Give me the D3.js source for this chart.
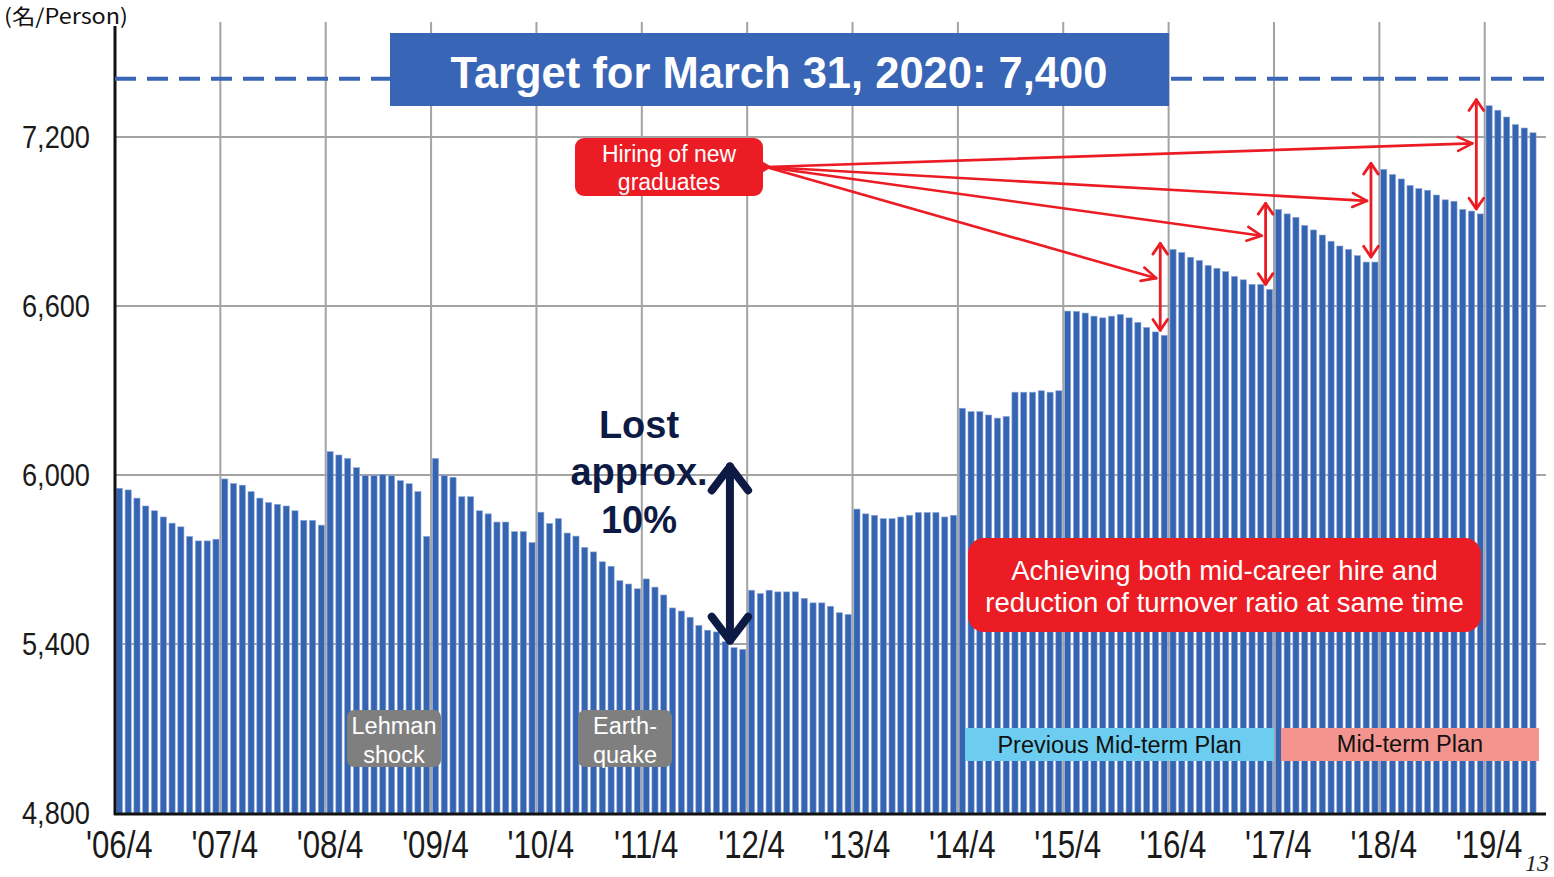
<!DOCTYPE html>
<html><head><meta charset="utf-8">
<script src="https://cdn.jsdelivr.net/npm/d3@7"></script>
<style>body{margin:0;background:#fff} svg{display:block}</style>
</head><body>
<svg id="c" width="1554" height="877"></svg>
<script>
// Monthly headcount, fiscal years (April .. March)
const fy2006=[5953,5947,5918,5890,5873,5851,5829,5816,5782,5766,5766,5772];
const fy2007=[5986,5970,5964,5941,5918,5902,5896,5890,5873,5839,5839,5822];
const fy2008=[6083,6071,6059,6026,5998,5998,6002,5998,5980,5969,5941,5782];
const fy2009=[6059,5998,5992,5923,5923,5873,5862,5833,5833,5799,5799,5760];
const fy2010=[5868,5828,5845,5794,5783,5743,5727,5692,5676,5625,5613,5596];
const fy2011=[5631,5602,5574,5528,5517,5495,5466,5449,5443,5408,5387,5381];
const fy2012=[5591,5579,5591,5585,5585,5585,5562,5546,5546,5534,5511,5505];
const fy2013=[5879,5862,5857,5845,5845,5851,5857,5867,5867,5867,5851,5857];
const fy2014=[6237,6225,6225,6213,6202,6208,6294,6294,6294,6299,6294,6299];
const fy2015=[6582,6581,6575,6564,6558,6564,6570,6558,6542,6524,6508,6496];
const fy2016=[6801,6790,6773,6762,6744,6734,6722,6705,6693,6677,6677,6659];
const fy2017=[6943,6927,6915,6886,6870,6852,6830,6813,6801,6779,6756,6756];
const fy2018=[7085,7067,7051,7028,7017,7011,6994,6977,6972,6943,6937,6927];
const fy2019=[7311,7295,7271,7244,7232,7215];
const yearLabels=["'06/4","'07/4","'08/4","'09/4","'10/4","'11/4","'12/4","'13/4","'14/4","'15/4","'16/4","'17/4","'18/4","'19/4"];
const yTicks=[4800,5400,6000,6600,7200];
const targetValue=7400;
const hireYears=[10,11,12,13]; // fiscal-year index where April new-graduate hiring is marked

const values=[].concat(fy2006,fy2007,fy2008,fy2009,fy2010,fy2011,fy2012,fy2013,fy2014,fy2015,fy2016,fy2017,fy2018,fy2019);
const N=values.length;

const svg=d3.select("#c");
const left=115, right=1546, bottom=813;
const step=8.764;
const x=d3.scaleBand().domain(d3.range(N)).range([left,left+step*(N+0.3)]).paddingInner(0.3).paddingOuter(0.15);
const y=d3.scaleLinear().domain([4800,7200]).range([bottom,137]);
const bw=x.bandwidth();
const gap=x.step()-bw;
const aprilX=i=>x(i*12)-gap/2;

const BLUE="#3564b2", RED="#ec1c24", GRID="#a3a3a3", NAVY="#0d1a44";
const SANS="'Liberation Sans', Arial, sans-serif";

// gridlines
const grid=svg.append("g");
grid.selectAll("line.h").data(yTicks.slice(1)).join("line")
  .attr("x1",left).attr("x2",right).attr("y1",d=>y(d)).attr("y2",d=>y(d))
  .attr("stroke",GRID).attr("stroke-width",2);
grid.selectAll("line.v").data(yearLabels.map((d,i)=>i).slice(1)).join("line")
  .attr("x1",d=>aprilX(d)).attr("x2",d=>aprilX(d)).attr("y1",22).attr("y2",bottom)
  .attr("stroke",GRID).attr("stroke-width",2);

// bars
svg.append("g").selectAll("rect").data(values).join("rect")
  .attr("x",(d,i)=>x(i)).attr("width",bw)
  .attr("y",d=>y(d)).attr("height",d=>y(4800)-y(d))
  .attr("fill",BLUE).attr("stroke","#8fa9d8").attr("stroke-width",0.6);

// condensed text helper: move x/y into a transform and squeeze horizontally
function condense(sel,sx){
  sel.each(function(){
    const t=d3.select(this);
    const tx=+t.attr("x")||0, ty=+t.attr("y")||0;
    t.attr("x",0).attr("y",0).attr("transform",`translate(${tx},${ty}) scale(${sx},1)`);
  });
}

// axes
const ya=svg.append("g").attr("transform",`translate(${left},0)`)
  .call(d3.axisLeft(y).tickValues(yTicks).tickSize(0).tickPadding(25).tickFormat(d3.format(",")));
ya.select(".domain").remove();
ya.selectAll("text").attr("font-family",SANS).attr("font-size",32).attr("fill","#1a1a1a").call(condense,0.85);

const xa=svg.append("g").attr("transform",`translate(0,${bottom})`)
  .call(d3.axisBottom(x).tickValues(d3.range(0,N,12)).tickSize(0).tickPadding(17).tickFormat(i=>yearLabels[i/12]));
xa.select(".domain").remove();
xa.selectAll("text").attr("font-family",SANS).attr("font-size",39).attr("fill","#1a1a1a").call(condense,0.8);

svg.append("line").attr("x1",left).attr("x2",left).attr("y1",26).attr("y2",bottom+2)
  .attr("stroke","#111").attr("stroke-width",3);
svg.append("line").attr("x1",left-1).attr("x2",right).attr("y1",bottom+1).attr("y2",bottom+1)
  .attr("stroke","#111").attr("stroke-width",3);

svg.append("text").attr("x",4).attr("y",24).text("(名/Person)")
  .attr("font-family","'Noto Sans CJK JP', sans-serif").attr("font-size",21).attr("fill","#111")
  .attr("textLength",124).attr("lengthAdjust","spacingAndGlyphs");

// target dashed line + box
svg.append("line").attr("x1",left).attr("x2",right).attr("y1",y(targetValue)-2).attr("y2",y(targetValue)-2)
  .attr("stroke","#3a66b7").attr("stroke-width",4).attr("stroke-dasharray","21 11");
svg.append("rect").attr("x",390).attr("y",33).attr("width",779).attr("height",73).attr("fill","#3865b5");
svg.append("text").attr("x",779).attr("y",88).attr("text-anchor","middle")
  .attr("font-family",SANS).attr("font-weight","bold").attr("font-size",43.5).attr("fill","#fff")
  .text("Target for March 31, 2020: 7,400");

// helpers
function chevron(g,tx,ty,ang,len,half,color,w){
  const a1=ang+Math.PI-half,a2=ang+Math.PI+half;
  g.append("path").attr("d",d3.line()([[tx+len*Math.cos(a1),ty+len*Math.sin(a1)],[tx,ty],[tx+len*Math.cos(a2),ty+len*Math.sin(a2)]]))
    .attr("fill","none").attr("stroke",color).attr("stroke-width",w).attr("stroke-linecap","round").attr("stroke-linejoin","round");
}
function arrow(g,x1,y1,x2,y2,color,w,len,half,both){
  g.append("line").attr("x1",x1).attr("y1",y1).attr("x2",x2).attr("y2",y2)
    .attr("stroke",color).attr("stroke-width",w).attr("stroke-linecap","round");
  const a=Math.atan2(y2-y1,x2-x1);
  chevron(g,x2,y2,a,len,half,color,w);
  if(both) chevron(g,x1,y1,a+Math.PI,len,half,color,w);
}
function box(g,x0,y0,w,h,r,fill,lines,fs,baselines,color){
  g.append("rect").attr("x",x0).attr("y",y0).attr("width",w).attr("height",h).attr("rx",r).attr("fill",fill);
  lines.forEach((t,i)=>g.append("text").attr("x",x0+w/2).attr("y",baselines[i]).attr("text-anchor","middle")
    .attr("font-family",SANS).attr("font-size",fs).attr("fill",color).text(t));
}

const ann=svg.append("g");
// hiring arrows
const origin=[766,167];
hireYears.forEach(k=>{
  const ai=k*12, mi=ai-1;
  const ax=x(mi)+bw/2-4;
  const top=y(values[ai])-6, bot=y(values[mi])-5;
  arrow(ann,ax,top,ax,bot,RED,2.8,13,0.6,true);
  const ty=top+0.4*(bot-top);
  arrow(ann,origin[0],origin[1],ax-4,ty,RED,2.6,16,0.45,false);
});
box(ann,575,138,188,58,9,RED,["Hiring of new","graduates"],23,[162,190],"#fff");
ann.append("path").attr("d","M760,160 L772,167 L760,174 Z").attr("fill",RED);

// lost approx 10%
const lx=x(70)-1;
arrow(ann,lx,y(6030),lx,y(5412),NAVY,8,30,0.65,true);
[["Lost",438],["approx.",485],["10%",533]].forEach(([t,b])=>ann.append("text").attr("x",639).attr("y",b)
  .attr("text-anchor","middle").attr("font-family",SANS).attr("font-weight","bold").attr("font-size",38).attr("fill",NAVY).text(t));

box(ann,968,538,513,94,16,RED,["Achieving both mid-career hire and","reduction of turnover ratio at same time"],27.5,[580,612],"#fff");
box(ann,347,710,94,57,7,"#7f7f7f",["Lehman","shock"],23.5,[734,763],"#fff");
box(ann,578,710,94,57,7,"#7f7f7f",["Earth-","quake"],23.5,[734,763],"#fff");
box(ann,965,728,309,33,0,"#6ccdf0",["Previous Mid-term Plan"],23.5,[753],"#111");
box(ann,1281,728,258,33,0,"#f4948e",["Mid-term Plan"],23.5,[752],"#111");

svg.append("text").attr("x",1525).attr("y",871).text("13")
  .attr("font-family","'Liberation Serif', serif").attr("font-style","italic").attr("font-size",24).attr("fill","#222");
</script>
</body></html>
